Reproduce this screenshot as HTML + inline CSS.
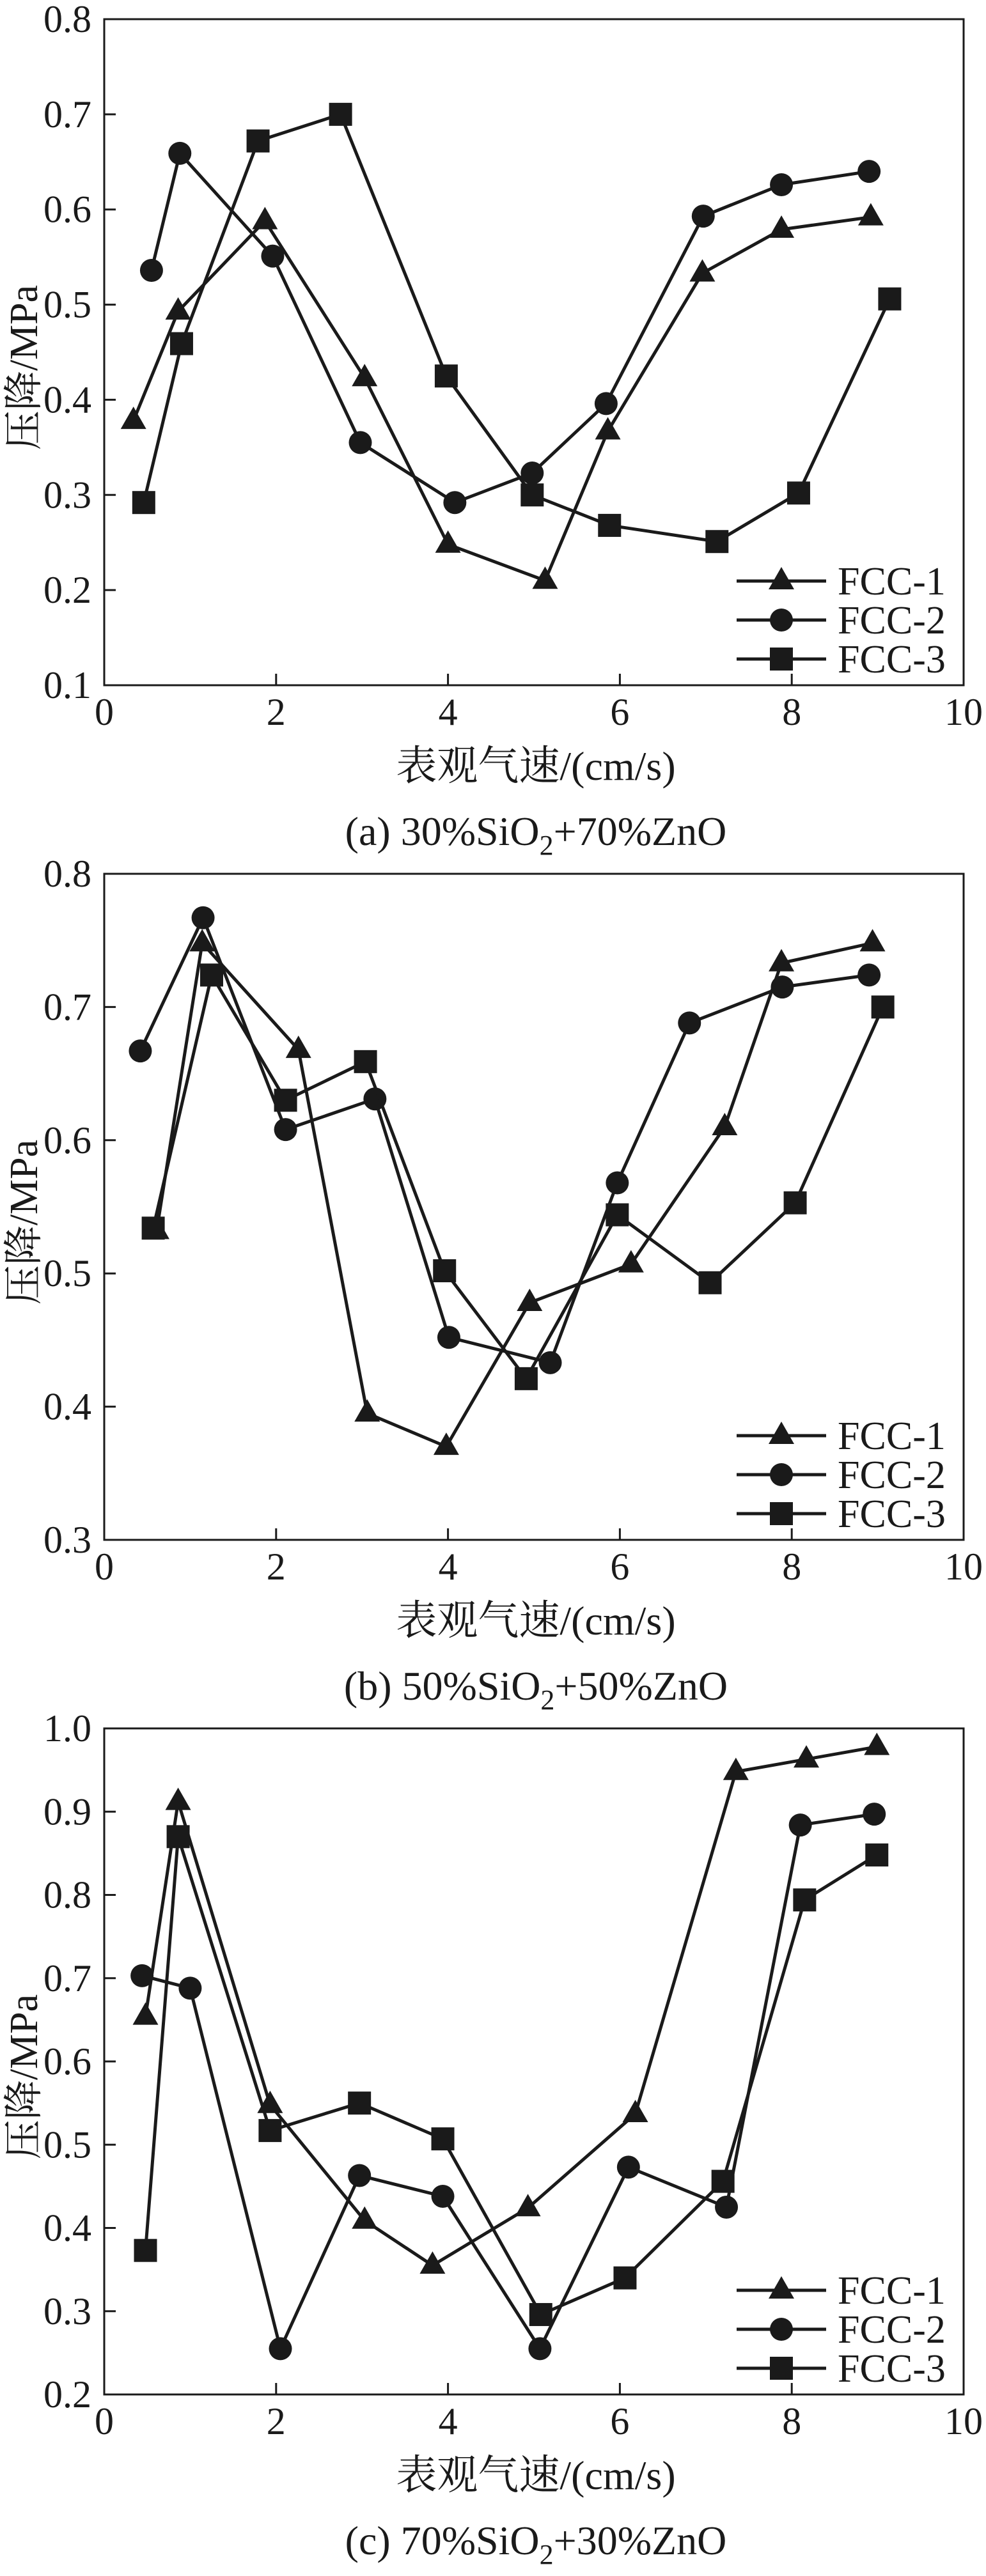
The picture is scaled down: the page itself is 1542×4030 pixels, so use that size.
<!DOCTYPE html>
<html><head><meta charset="utf-8">
<style>
html,body{margin:0;padding:0;background:#fff;}
svg text{font-family:"Liberation Serif","Noto Serif CJK SC","Noto Sans CJK SC",serif;fill:#1a1a1a;}
</style></head>
<body>
<svg id="fig" width="1542" height="4025" viewBox="0 0 1542 4025" xmlns="http://www.w3.org/2000/svg"></svg>
<script>
// ---- data ----
const seriesNames = ["FCC-1","FCC-2","FCC-3"];
const xTicks = [0,2,4,6,8,10];
const panelTitles = ["(a) 30%SiO|2|+70%ZnO","(b) 50%SiO|2|+50%ZnO","(c) 70%SiO|2|+30%ZnO"];
const yTicksA = [0.1,0.2,0.3,0.4,0.5,0.6,0.7,0.8];
const yTicksB = [0.3,0.4,0.5,0.6,0.7,0.8];
const yTicksC = [0.2,0.3,0.4,0.5,0.6,0.7,0.8,0.9,1.0];
// panel a
const a1x = [0.34,0.86,1.87,3.03,4.0,5.13,5.86,6.96,7.88,8.92];
const a1y = [0.378,0.493,0.588,0.423,0.248,0.21,0.367,0.533,0.579,0.592];
const a2x = [0.55,0.88,1.96,2.98,4.08,4.98,5.84,6.97,7.88,8.90];
const a2y = [0.536,0.659,0.551,0.355,0.292,0.323,0.396,0.593,0.626,0.640];
const a3x = [0.46,0.90,1.79,2.75,3.98,4.98,5.88,7.13,8.08,9.14];
const a3y = [0.292,0.459,0.672,0.700,0.425,0.300,0.268,0.251,0.302,0.506];
// panel b
const b1x = [0.61,1.14,2.26,3.06,3.98,4.95,6.13,7.22,7.88,8.94];
const b1y = [0.532,0.748,0.668,0.395,0.370,0.478,0.507,0.610,0.733,0.748];
const b2x = [0.42,1.15,2.11,3.15,4.01,5.19,5.97,6.81,7.89,8.90];
const b2y = [0.667,0.767,0.608,0.631,0.452,0.433,0.568,0.688,0.715,0.724];
const b3x = [0.57,1.25,2.11,3.04,3.96,4.91,5.97,7.05,8.04,9.06];
const b3y = [0.534,0.724,0.630,0.659,0.502,0.421,0.544,0.493,0.553,0.700];
// panel c
const c1x = [0.48,0.86,1.93,3.03,3.82,4.93,6.18,7.35,8.17,8.99];
const c1y = [0.654,0.912,0.548,0.409,0.355,0.424,0.537,0.948,0.963,0.978];
const c2x = [0.44,1.0,2.05,2.97,3.94,5.07,6.10,7.24,8.10,8.96];
const c2y = [0.703,0.688,0.255,0.463,0.438,0.255,0.473,0.425,0.884,0.897];
const c3x = [0.48,0.86,1.93,2.97,3.94,5.08,6.06,7.2,8.15,8.99];
const c3y = [0.373,0.870,0.517,0.550,0.507,0.296,0.340,0.456,0.794,0.848];

const NS="http://www.w3.org/2000/svg";
const svg=document.getElementById('fig');
function mk(tag,attrs,parent){const e=document.createElementNS(NS,tag);for(const k in attrs)e.setAttribute(k,attrs[k]);(parent||svg).appendChild(e);return e;}

function marker(g,kind,cx,cy){
  let m;
  if(kind===0){m=mk('polygon',{points:`${cx},${cy-22} ${cx-20},${cy+13} ${cx+20},${cy+13}`,fill:'#1a1a1a'},g);}
  else if(kind===1){m=mk('circle',{cx:cx,cy:cy,r:18,fill:'#1a1a1a'},g);}
  else {m=mk('rect',{x:cx-18,y:cy-18,width:36,height:36,fill:'#1a1a1a'},g);}
  return m;
}

function panel(idx,off,yTicks,ymin,ymax,xs,ys){
  const L=163,R=1507,T=30+off,B=1072+off;
  const sx=v=>L+(v-0)/(10-0)*(R-L);
  const sy=v=>B-(v-ymin)/(ymax-ymin)*(B-T);
  const g=mk('g',{});
  
  
  const fr=mk('rect',{x:L,y:T,width:R-L,height:B-T,fill:'none',stroke:'#1a1a1a','stroke-width':3},g);
  
  
  xTicks.forEach(v=>{
    const x=sx(v);
    if(v>0&&v<10) mk('line',{x1:x,y1:B,x2:x,y2:B-18,stroke:'#1a1a1a','stroke-width':3},g);
    const t=mk('text',{x:x,y:B+62,'font-size':60,'text-anchor':'middle'},g);
    t.textContent=v;
    
    
  });
  yTicks.forEach(v=>{
    const y=sy(v);
    if(v>ymin+1e-9&&v<ymax-1e-9) mk('line',{x1:L,y1:y,x2:L+18,y2:y,stroke:'#1a1a1a','stroke-width':3},g);
    const t=mk('text',{x:143,y:y+20,'font-size':60,'text-anchor':'end'},g);
    t.textContent=v.toFixed(1);
    
    
  });
  const yt=mk('text',{x:0,y:0,'font-size':62,'text-anchor':'middle',transform:`translate(58,${off+575}) rotate(-90)`},g);
  yt.textContent='压降/MPa';
  
  
  const xt=mk('text',{x:838,y:off+1220,'font-size':64,'text-anchor':'middle'},g);
  xt.textContent='表观气速/(cm/s)';
  
  
  const parts=panelTitles[idx].split('|');
  const ct=mk('text',{x:838,y:off+1322,'font-size':64,'text-anchor':'middle'},g);
  
  
  const s1=mk('tspan',{},ct);s1.textContent=parts[0];
  const s2=mk('tspan',{'font-size':44,dy:15},ct);s2.textContent=parts[1];
  const s3=mk('tspan',{dy:-15},ct);s3.textContent=parts[2];
  for(let s=0;s<3;s++){
    const sg=mk('g',{},g);
    
    
    const pts=xs[s].map((v,i)=>sx(v)+','+sy(ys[s][i])).join(' ');
    const pl=mk('polyline',{points:pts,fill:'none',stroke:'#1a1a1a','stroke-width':5,'stroke-linejoin':'round'},sg);
    
    
    xs[s].forEach((v,i)=>{
      const m=marker(sg,s,sx(v),sy(ys[s][i]));
      
      
    });
  }
  const lg=mk('g',{},g);
  
  
  for(let s=0;s<3;s++){
    const y=off+909+s*61;
    const eg=mk('g',{},lg);
    
    
    mk('line',{x1:1152,y1:y,x2:1292,y2:y,stroke:'#1a1a1a','stroke-width':5},eg);
    marker(eg,s,1222,y);
    const t=mk('text',{x:1310,y:y+21,'font-size':62},eg);
    t.textContent=seriesNames[s];
  }
}
panel(0,0,yTicksA,0.1,0.8,[a1x,a2x,a3x],[a1y,a2y,a3y]);
panel(1,1337,yTicksB,0.3,0.8,[b1x,b2x,b3x],[b1y,b2y,b3y]);
panel(2,2674,yTicksC,0.2,1.0,[c1x,c2x,c3x],[c1y,c2y,c3y]);
</script>
</body></html>
